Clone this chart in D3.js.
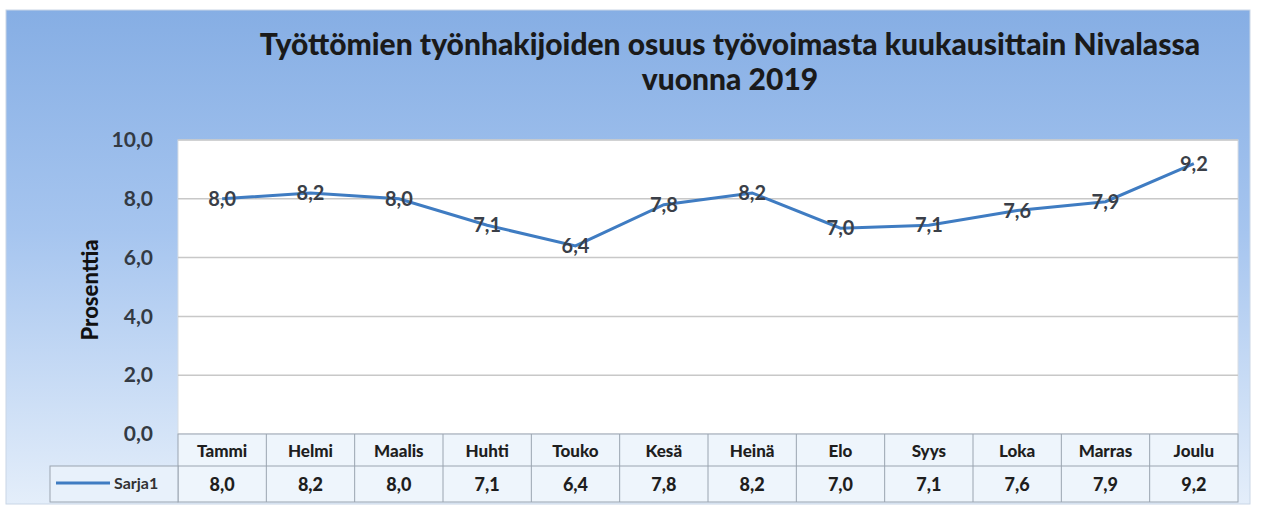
<!DOCTYPE html>
<html>
<head>
<meta charset="utf-8">
<script src="https://cdn.jsdelivr.net/npm/d3@7"></script>
<style>
  body { margin: 0; background: #fff; }
  text { font-family: Lato, "Open Sans", sans-serif; }
</style>
</head>
<body>
<svg id="canvas" width="1261" height="509"></svg>
<script>
var months = ["Tammi", "Helmi", "Maalis", "Huhti", "Touko", "Kesä", "Heinä", "Elo", "Syys", "Loka", "Marras", "Joulu"];
var values = [8.0, 8.2, 8.0, 7.1, 6.4, 7.8, 8.2, 7.0, 7.1, 7.6, 7.9, 9.2];
var yTicks = [0, 2, 4, 6, 8, 10];
var seriesName = "Sarja1";
var titleLines = ["Työttömien työnhakijoiden osuus työvoimasta kuukausittain Nivalassa", "vuonna 2019"];
var yTitle = "Prosenttia";

var fmt = function(v) { return v.toFixed(1).replace(".", ","); };

var svg = d3.select("#canvas");

// chart background gradient
var defs = svg.append("defs");
var grad = defs.append("linearGradient").attr("id", "bg").attr("x1", 0).attr("y1", 0).attr("x2", 0).attr("y2", 1);
grad.append("stop").attr("offset", "0%").attr("stop-color", "#86aee4");
grad.append("stop").attr("offset", "45%").attr("stop-color", "#a6c5ef");
grad.append("stop").attr("offset", "100%").attr("stop-color", "#e4eefa");

svg.append("rect")
  .attr("x", 6).attr("y", 10).attr("width", 1244).attr("height", 494)
  .attr("fill", "url(#bg)").attr("stroke", "#c9d6e6");

var plot = {left: 178, right: 1238, top: 140, bottom: 434};

var x = d3.scaleBand().domain(months).range([plot.left, plot.right]);
var y = d3.scaleLinear().domain([0, 10]).range([plot.bottom, plot.top]);

// plot area
svg.append("rect")
  .attr("x", plot.left).attr("y", plot.top)
  .attr("width", plot.right - plot.left).attr("height", plot.bottom - plot.top)
  .attr("fill", "#ffffff").attr("stroke", "#d8dde4");

// gridlines
svg.append("g").selectAll("line")
  .data(yTicks.slice(1))
  .enter().append("line")
    .attr("x1", plot.left).attr("x2", plot.right)
    .attr("y1", function(d) { return y(d); })
    .attr("y2", function(d) { return y(d); })
    .attr("stroke", "#c8c8c8").attr("stroke-width", 1.5);

// y axis
var yAxis = d3.axisLeft(y).tickValues(yTicks).tickSize(0).tickPadding(25).tickFormat(fmt);
var yg = svg.append("g").attr("transform", "translate(" + plot.left + ",0)").call(yAxis);
yg.select(".domain").remove();
yg.selectAll("text")
  .style("font-size", "21px").style("font-weight", "700").attr("fill", "#333a44");

// y axis title
svg.append("text")
  .attr("transform", "translate(98," + (y(5) + 3) + ") rotate(-90)")
  .attr("text-anchor", "middle")
  .style("font-size", "22px").style("font-weight", "900")
  .attr("fill", "#111")
  .text(yTitle);

// title
svg.append("g").selectAll("text")
  .data(titleLines)
  .enter().append("text")
    .attr("x", 730)
    .attr("y", function(d, i) { return 55 + i * 35; })
    .attr("text-anchor", "middle")
    .style("font-size", "30px").style("font-weight", "900")
    .attr("fill", "#1a1a1a")
    .text(function(d) { return d; });

// line
var line = d3.line()
  .x(function(d, i) { return x(months[i]) + x.bandwidth() / 2; })
  .y(function(d) { return y(d); });

svg.append("path")
  .datum(values)
  .attr("d", line)
  .attr("fill", "none")
  .attr("stroke", "#3f7cc2")
  .attr("stroke-width", 3);

// data labels
svg.append("g").selectAll("text")
  .data(values)
  .enter().append("text")
    .attr("x", function(d, i) { return x(months[i]) + x.bandwidth() / 2; })
    .attr("y", function(d) { return y(d) + 7; })
    .attr("text-anchor", "middle")
    .style("font-size", "20px").style("font-weight", "700")
    .attr("fill", "#3a3f48")
    .text(fmt);

// data table
var rowTop = plot.bottom, rowMid = 466, rowBot = 502;
var table = svg.append("g");

table.append("rect")
  .attr("x", plot.left).attr("y", rowTop)
  .attr("width", plot.right - plot.left).attr("height", rowBot - rowTop)
  .attr("fill", "#eef5fc").attr("stroke", "#9aa4b0");
table.append("rect")
  .attr("x", 50).attr("y", rowMid)
  .attr("width", plot.left - 50).attr("height", rowBot - rowMid)
  .attr("fill", "#e8f1fb").attr("stroke", "#9aa4b0");
table.append("line")
  .attr("x1", plot.left).attr("x2", plot.right)
  .attr("y1", rowMid).attr("y2", rowMid)
  .attr("stroke", "#9aa4b0");

table.selectAll(".sep")
  .data(months.slice(1))
  .enter().append("line")
    .attr("class", "sep")
    .attr("x1", function(d) { return x(d); })
    .attr("x2", function(d) { return x(d); })
    .attr("y1", rowTop).attr("y2", rowBot)
    .attr("stroke", "#9aa4b0");

table.selectAll(".hdr")
  .data(months)
  .enter().append("text")
    .attr("class", "hdr")
    .attr("x", function(d) { return x(d) + x.bandwidth() / 2; })
    .attr("y", rowTop + 23)
    .attr("text-anchor", "middle")
    .style("font-size", "17px").style("font-weight", "900")
    .attr("fill", "#1e1e1e")
    .text(function(d) { return d; });

table.selectAll(".val")
  .data(values)
  .enter().append("text")
    .attr("class", "val")
    .attr("x", function(d, i) { return x(months[i]) + x.bandwidth() / 2; })
    .attr("y", rowMid + 25)
    .attr("text-anchor", "middle")
    .style("font-size", "18px").style("font-weight", "900")
    .attr("fill", "#1e1e1e")
    .text(fmt);

// legend key in table
table.append("line")
  .attr("x1", 56).attr("x2", 110)
  .attr("y1", rowMid + 17).attr("y2", rowMid + 17)
  .attr("stroke", "#3f7cc2").attr("stroke-width", 3);
table.append("text")
  .attr("x", 114).attr("y", rowMid + 23)
  .style("font-size", "16px").style("font-weight", "700")
  .attr("fill", "#333")
  .text(seriesName);
</script>
</body>
</html>
